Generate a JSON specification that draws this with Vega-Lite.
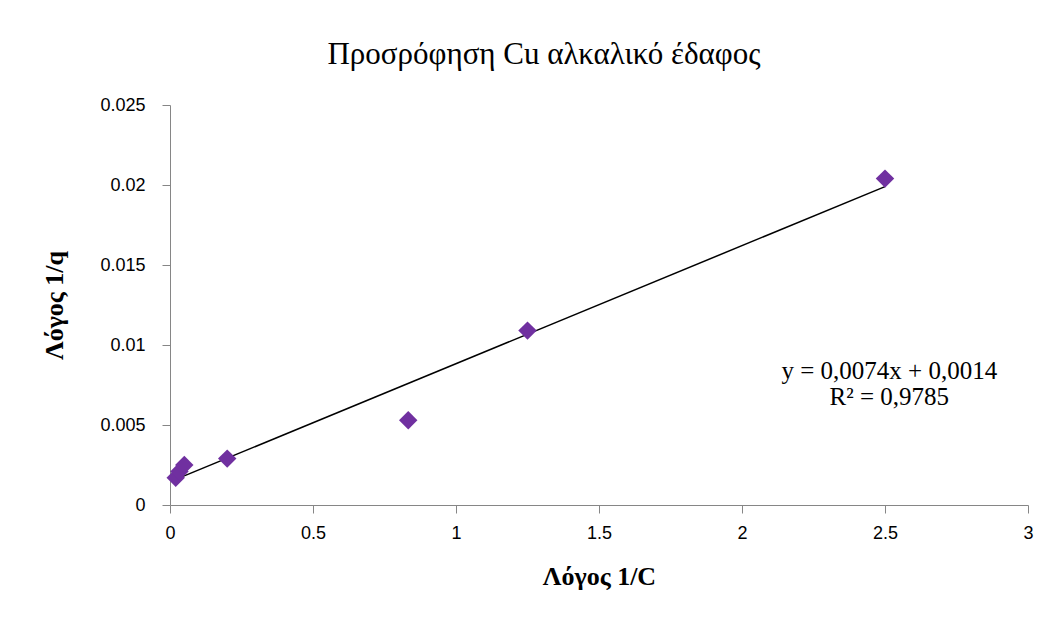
{
  "$schema": "https://vega.github.io/schema/vega-lite/v6.json",
  "autosize": {"type": "none"},
  "width": 858,
  "height": 400,
  "padding": {"left": 170, "top": 105, "right": 28, "bottom": 116},
  "background": "white",
  "config": {"view": {"stroke": null}},
  "title": {
    "text": "Προσρόφηση Cu αλκαλικό έδαφος",
    "font": "Liberation Serif",
    "fontSize": 31,
    "fontWeight": "normal",
    "color": "#000000",
    "anchor": "middle",
    "dx": -55,
    "baseline": "alphabetic",
    "offset": 1
  },
  "datasets": {
    "points": [
      {"x": 0.02, "y": 0.0017},
      {"x": 0.033, "y": 0.0021},
      {"x": 0.05, "y": 0.0025},
      {"x": 0.2, "y": 0.0029},
      {"x": 0.833, "y": 0.0053},
      {"x": 1.25, "y": 0.0109},
      {"x": 2.5, "y": 0.0204}
    ],
    "trend": [
      {"x": 0.02, "y": 0.0016},
      {"x": 2.5, "y": 0.0199}
    ],
    "eq": [
      {"x": 2.515, "y": 0.0084, "label": "y = 0,0074x + 0,0014"},
      {"x": 2.515, "y": 0.00675, "label": "R² = 0,9785"}
    ]
  },
  "layer": [
    {
      "data": {"name": "trend"},
      "mark": {"type": "line", "color": "#000000", "strokeWidth": 1.5},
      "encoding": {
        "x": {
          "field": "x", "type": "quantitative",
          "scale": {"domain": [0, 3], "nice": false, "zero": true},
          "axis": {
            "title": "Λόγος 1/C",
            "values": [0, 0.5, 1, 1.5, 2, 2.5, 3],
            "format": "~g",
            "grid": false,
            "domainColor": "#868686",
            "tickColor": "#868686",
            "tickSize": 8,
            "labelFont": "Liberation Sans",
            "labelFontSize": 18,
            "labelColor": "#000000",
            "labelPadding": 11,
            "labelFlush": false,
            "titleFont": "Liberation Serif",
            "titleFontSize": 26,
            "titleFontWeight": "bold",
            "titleColor": "#000000",
            "titlePadding": 21
          }
        },
        "y": {
          "field": "y", "type": "quantitative",
          "scale": {"domain": [0, 0.025], "nice": false},
          "axis": {
            "title": "Λόγος 1/q",
            "values": [0, 0.005, 0.01, 0.015, 0.02, 0.025],
            "format": "~g",
            "grid": false,
            "domainColor": "#868686",
            "tickColor": "#868686",
            "tickSize": 8,
            "labelFont": "Liberation Sans",
            "labelFontSize": 18,
            "labelColor": "#000000",
            "labelPadding": 17,
            "labelFlush": false,
            "titleFont": "Liberation Serif",
            "titleFontSize": 26,
            "titleFontWeight": "bold",
            "titleColor": "#000000",
            "titlePadding": 32
          }
        }
      }
    },
    {
      "data": {"name": "points"},
      "mark": {"type": "point", "shape": "diamond", "filled": true, "color": "#7030A0", "opacity": 1, "size": 340},
      "encoding": {
        "x": {"field": "x", "type": "quantitative"},
        "y": {"field": "y", "type": "quantitative"}
      }
    },
    {
      "data": {"name": "eq"},
      "mark": {"type": "text", "font": "Liberation Serif", "fontSize": 25, "color": "#000000", "align": "center", "baseline": "middle"},
      "encoding": {
        "x": {"field": "x", "type": "quantitative"},
        "y": {"field": "y", "type": "quantitative"},
        "text": {"field": "label"}
      }
    }
  ]
}
